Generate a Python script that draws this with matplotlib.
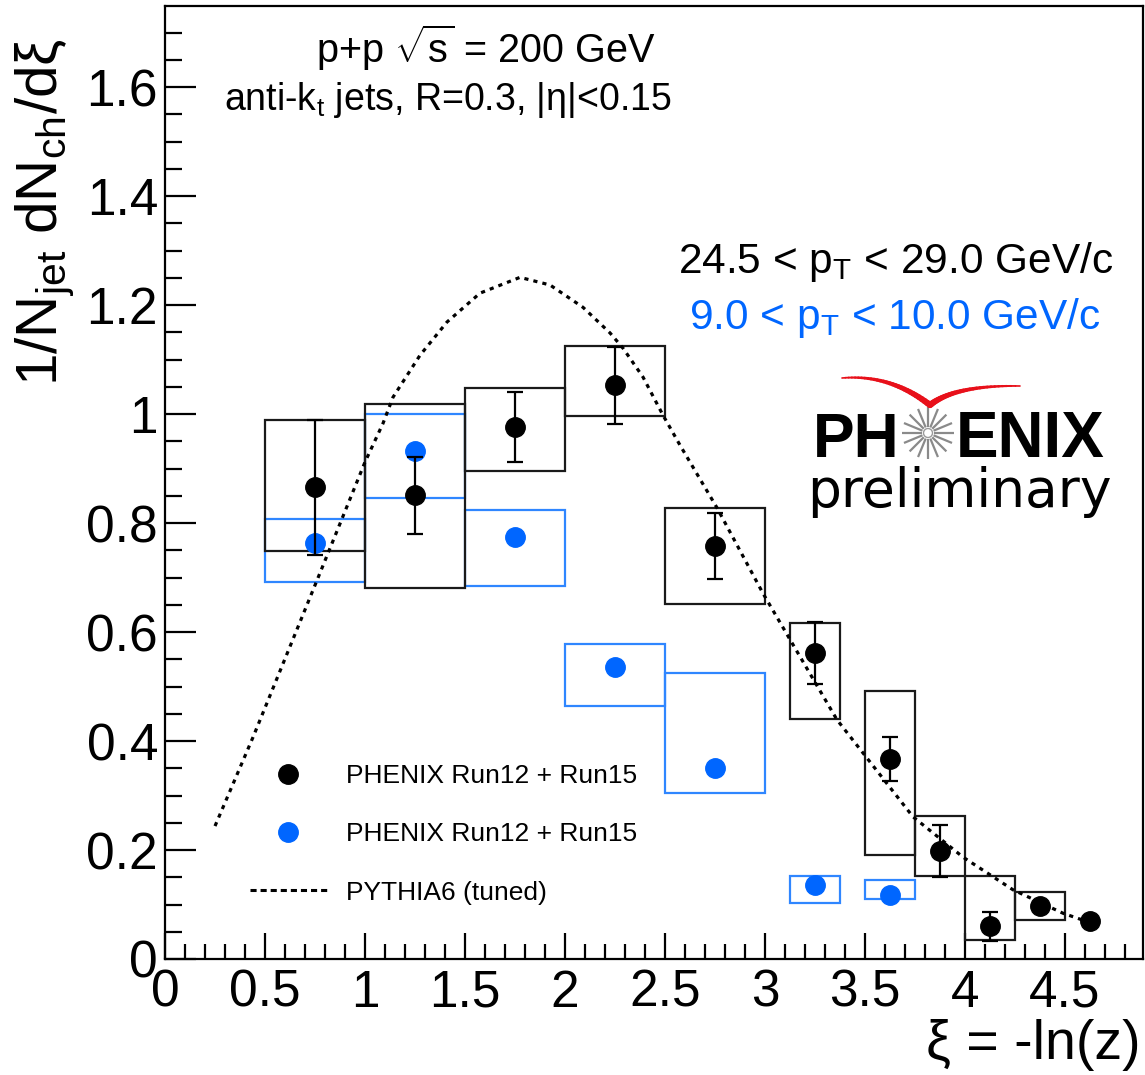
import numpy as np
import matplotlib.pyplot as plt
from matplotlib.patches import Rectangle, Circle
from matplotlib.collections import LineCollection
from matplotlib.lines import Line2D
from matplotlib.ticker import MultipleLocator, FuncFormatter

plt.rcParams['font.family'] = ['Liberation Sans', 'DejaVu Sans']
plt.rcParams['mathtext.fontset'] = 'custom'
plt.rcParams['mathtext.rm'] = 'Liberation Sans'
plt.rcParams['mathtext.it'] = 'Liberation Sans:italic'
plt.rcParams['mathtext.bf'] = 'Liberation Sans:bold'

nan = np.nan

# 24.5 < pT < 29.0 GeV/c jets
xi_hi = [0.75, 1.25, 1.75, 2.25, 2.75, 3.25, 3.625, 3.875, 4.125, 4.375, 4.625]
dn_hi = [0.866, 0.851, 0.976, 1.053, 0.758, 0.561, 0.367, 0.198, 0.060, 0.097, 0.070]
stat_hi = [0.124, 0.071, 0.064, 0.071, 0.060, 0.057, 0.041, 0.048, 0.027, 0.0, 0.0]
sys_dn_hi = [0.749, 0.681, 0.895, 0.996, 0.651, 0.440, 0.191, 0.152, 0.035, 0.072, nan]
sys_up_hi = [0.989, 1.018, 1.048, 1.125, 0.828, 0.617, 0.492, 0.262, 0.152, 0.123, nan]
bin_lo_hi = [0.5, 1.0, 1.5, 2.0, 2.5, 3.125, 3.5, 3.75, 4.0, 4.25, 4.5]
bin_up_hi = [1.0, 1.5, 2.0, 2.5, 3.0, 3.375, 3.75, 4.0, 4.25, 4.5, 4.75]

# 9.0 < pT < 10.0 GeV/c jets
xi_lo = [0.75, 1.25, 1.75, 2.25, 2.75, 3.25, 3.625]
dn_lo = [0.763, 0.932, 0.774, 0.536, 0.350, 0.136, 0.117]
sys_dn_lo = [0.692, 0.846, 0.685, 0.464, 0.305, 0.103, 0.110]
sys_up_lo = [0.807, 1.000, 0.824, 0.578, 0.525, 0.152, 0.145]
bin_lo_lo = [0.5, 1.0, 1.5, 2.0, 2.5, 3.125, 3.5]
bin_up_lo = [1.0, 1.5, 2.0, 2.5, 3.0, 3.375, 3.75]

# PYTHIA6 tuned curve
xi_py = [0.25, 0.44, 0.76, 1.0, 1.09, 1.14, 1.275, 1.41, 1.575, 1.775, 1.925,
         2.09, 2.225, 2.29, 2.39, 2.49, 2.575, 2.76, 2.99, 3.36, 3.74, 3.99,
         4.24, 4.49, 4.6]
dn_py = [0.244, 0.407, 0.695, 0.912, 0.983, 1.031, 1.108, 1.169, 1.222, 1.251, 1.237,
         1.196, 1.149, 1.121, 1.068, 0.998, 0.943, 0.828, 0.671, 0.439, 0.261, 0.187,
         0.127, 0.084, 0.070]

blue = '#0066ff'
blue_box = '#2f86ff'

W, H = 1145, 1075
fig = plt.figure(figsize=(W / 100, H / 100), dpi=100)
ax = fig.add_axes([165 / W, (H - 959) / H, (1143 - 165) / W, (959 - 6) / H])

# systematic boxes
for lo, up, d, u in zip(bin_lo_lo, bin_up_lo, sys_dn_lo, sys_up_lo):
    ax.add_patch(Rectangle((lo, d), up - lo, u - d, fill=False, ec=blue_box, lw=1.6, zorder=2))
for lo, up, d, u in zip(bin_lo_hi, bin_up_hi, sys_dn_hi, sys_up_hi):
    if np.isnan(d):
        continue
    ax.add_patch(Rectangle((lo, d), up - lo, u - d, fill=False, ec='#1a1a1a', lw=1.6, zorder=3))

ax.plot(xi_py, dn_py, color='k', lw=2.3, ls=(0, (1.3, 1.6)), zorder=4)
ax.plot(xi_lo, dn_lo, 'o', color=blue, ms=14, zorder=5)
ax.errorbar(xi_hi, dn_hi, yerr=stat_hi, fmt='o', color='k', ms=14, elinewidth=1.6,
            capsize=6, capthick=1.6, zorder=6)

ax.set_xlim(0, 4.89)
ax.set_ylim(0, 1.749)
ax.xaxis.set_major_locator(MultipleLocator(0.5))
ax.xaxis.set_minor_locator(MultipleLocator(0.1))
ax.yaxis.set_major_locator(MultipleLocator(0.2))
ax.yaxis.set_minor_locator(MultipleLocator(0.05))
fmt = FuncFormatter(lambda v, p: '%g' % round(v, 2))
ax.xaxis.set_major_formatter(fmt)
ax.yaxis.set_major_formatter(fmt)
ax.tick_params(which='both', direction='in', top=False, right=False, labelsize=37, width=1.6)
ax.tick_params(axis='x', which='major', length=19, pad=7)
ax.tick_params(axis='x', which='minor', length=11)
ax.tick_params(axis='y', which='major', length=22, pad=5)
ax.tick_params(axis='y', which='minor', length=12)
for s in ax.spines.values():
    s.set_linewidth(1.6)

# overlay in pixel coordinates for labels and logo
ov = fig.add_axes([0, 0, 1, 1], zorder=10)
ov.set_xlim(0, W)
ov.set_ylim(H, 0)
ov.axis('off')
ov.patch.set_alpha(0)

ov.text(45, 38, '1/N$_{\\rm jet}$ dN$_{\\rm ch}$/dξ', rotation=90, ha='center', va='top', fontsize=42)
ov.text(1141, 1045, 'ξ = -ln(z)', ha='right', va='center', fontsize=40)

ov.text(486, 48, 'p+p $\\sqrt{\\rm s}$ = 200 GeV', ha='center', va='center', fontsize=28.5)
ov.text(448, 100, 'anti-k$_{\\rm t}$ jets, R=0.3, |η|<0.15', ha='center', va='center', fontsize=27)
ov.text(896, 262, '24.5 < p$_{\\rm T}$ < 29.0 GeV/c', ha='center', va='center', fontsize=30.5)
ov.text(895, 318, '9.0 < p$_{\\rm T}$ < 10.0 GeV/c', ha='center', va='center', fontsize=30.5, color=blue)

# PHENIX logo
ov.text(813, 457, 'PH', ha='left', va='baseline', fontsize=45, fontweight='bold')
ov.text(956, 457, 'ENIX', ha='left', va='baseline', fontsize=46, fontweight='bold')
ov.text(807, 507, 'preliminary', ha='left', va='baseline', fontsize=38.5, family='DejaVu Sans')

cx, cy = 928, 433
ang = np.deg2rad(np.arange(16) * 22.5)
rays = [[(cx + 6 * np.cos(a), cy + 6 * np.sin(a)), (cx + 26 * np.cos(a), cy + 26 * np.sin(a))] for a in ang]
ov.add_collection(LineCollection(rays, colors='#8a8a8a', linewidths=1.6))
ov.add_patch(Circle((cx, cy), 4.5, fc='white', ec='#9a9a9a', lw=1))


def bezier(p0, p1, p2, n=30):
    t = np.linspace(0, 1, n)[:, None]
    return (1 - t) ** 2 * np.array(p0) + 2 * (1 - t) * t * np.array(p1) + t ** 2 * np.array(p2)


arm_l = bezier((842, 378), (890, 374), (930, 405))
arm_r = bezier((930, 405), (955, 385), (1020, 386))
for pts, w0, w1 in [(arm_l, 1.2, 4.5), (arm_r, 4.5, 1.2)]:
    segs = np.stack([pts[:-1], pts[1:]], axis=1)
    ov.add_collection(LineCollection(segs, colors='#e8101a', linewidths=np.linspace(w0, w1, len(segs)),
                                     capstyle='round'))

handles = [Line2D([], [], marker='o', color='k', ls='none', ms=14),
           Line2D([], [], marker='o', color=blue, ls='none', ms=14),
           Line2D([], [], color='k', lw=2.2, ls=(0, (2.0, 1.3)))]
labels = ['PHENIX Run12 + Run15', 'PHENIX Run12 + Run15', 'PYTHIA6 (tuned)']
ov.legend(handles, labels, loc='upper left', bbox_to_anchor=(250, 764), bbox_transform=ov.transData,
          frameon=False, fontsize=19, handlelength=2.9, handletextpad=0.75, labelspacing=1.3,
          borderpad=0, borderaxespad=0)

fig.savefig('out.png', dpi=100)
